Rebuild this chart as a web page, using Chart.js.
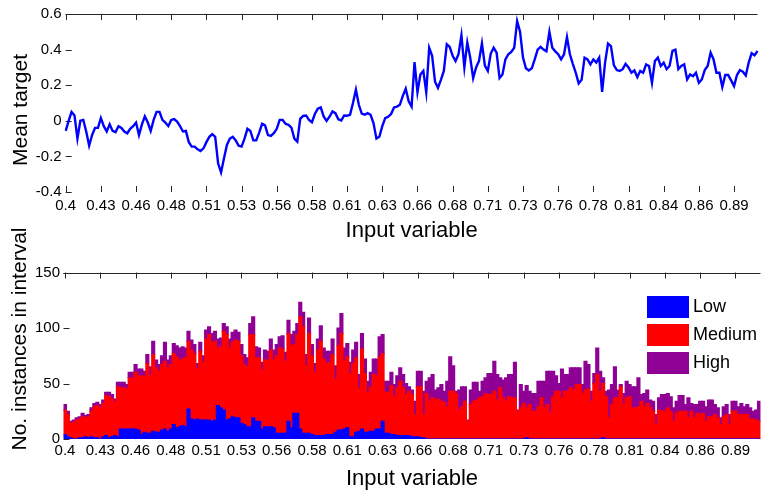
<!DOCTYPE html>
<html>
<head>
<meta charset="utf-8">
<script src="https://cdn.jsdelivr.net/npm/chart.js@4.4.0/dist/chart.umd.min.js"></script>
<style>
  body { margin: 0; background: #fff; }
  .panel { position: absolute; left: 0; width: 762px; }
  #top { top: 0; height: 250px; }
  #bottom { top: 220px; height: 272px; }
</style>
</head>
<body>
<div class="panel" id="top"><canvas id="meanChart" width="762" height="250"></canvas></div>
<div class="panel" id="bottom"><canvas id="countChart" width="762" height="272"></canvas></div>
<script>
// x tick labels, one every 12 bins
const tickLabels = ["0.4", "0.43", "0.46", "0.48", "0.51", "0.53", "0.56", "0.58", "0.61", "0.63",
    "0.66", "0.68", "0.71", "0.73", "0.76", "0.78", "0.81", "0.84", "0.86", "0.89"];
const binsPerTick = 12;

// mean target per bin (top panel)
const meanTarget = [
    -0.057, 0.0, 0.05, 0.03, -0.10, 0.0, 0.005, -0.06, -0.14, -0.08,
    -0.04, -0.04, 0.015, -0.03, -0.06, -0.02, -0.057, -0.064, -0.03, -0.04,
    -0.06, -0.07, -0.045, -0.03, -0.01, -0.08, -0.02, 0.025, -0.01, -0.057,
    0.005, 0.05, 0.05, 0.005, -0.01, -0.03, 0.005, 0.01, -0.004, -0.03,
    -0.06, -0.057, -0.12, -0.145, -0.145, -0.16, -0.17, -0.155, -0.12, -0.09,
    -0.075, -0.09, -0.24, -0.29, -0.21, -0.136, -0.10, -0.09, -0.11, -0.14,
    -0.145, -0.10, -0.045, -0.057, -0.11, -0.11, -0.066, -0.017, -0.026, -0.08,
    -0.085, -0.07, -0.045, 0.005, 0.005, -0.017, -0.023, -0.038, -0.10, -0.117,
    0.011, 0.028, 0.03, 0.005, -0.008, 0.038, 0.068, 0.075, 0.025, 0.0,
    0.023, 0.053, 0.043, 0.008, 0.002, 0.03, 0.028, 0.034, 0.10, 0.175,
    0.09, 0.04, 0.034, 0.043, 0.034, -0.013, -0.10, -0.09, -0.03, 0.015,
    0.023, 0.038, 0.075, 0.08, 0.09, 0.14, 0.18, 0.11, 0.08, 0.33,
    0.16, 0.26, 0.28, 0.16, 0.41, 0.365, 0.22, 0.185, 0.23, 0.28,
    0.43, 0.415, 0.365, 0.336, 0.374, 0.48, 0.3, 0.44, 0.355, 0.24,
    0.3, 0.336, 0.435, 0.31, 0.28, 0.378, 0.41, 0.383, 0.24, 0.26,
    0.345, 0.374, 0.387, 0.41, 0.56, 0.5, 0.355, 0.295, 0.283, 0.295,
    0.345, 0.4, 0.415, 0.4, 0.39, 0.5, 0.41, 0.39, 0.374, 0.345,
    0.374, 0.47, 0.374, 0.32, 0.27, 0.21, 0.23, 0.355, 0.345,
    0.317, 0.345, 0.327, 0.355, 0.162, 0.327, 0.434, 0.42, 0.313, 0.285,
    0.28, 0.29, 0.32, 0.3, 0.27, 0.283, 0.245, 0.28, 0.27, 0.317,
    0.308, 0.213, 0.336, 0.355, 0.308, 0.327, 0.29, 0.308, 0.393, 0.4,
    0.29, 0.308, 0.317, 0.232, 0.26, 0.25, 0.27, 0.213, 0.232, 0.285,
    0.308, 0.383, 0.345, 0.27, 0.27, 0.19, 0.257, 0.257, 0.227, 0.195,
    0.257, 0.285, 0.276, 0.255, 0.327, 0.38, 0.368, 0.393
];

// instance counts per bin (bottom panel)
const lowCounts = [
    4, 2, 1, 0, 0, 1, 1, 2, 1, 2,
    1, 1, 0, 2, 3, 1, 2, 3, 2, 9,
    9, 9, 9, 9, 9, 8, 4, 6, 5, 5,
    7, 6, 6, 8, 9, 7, 9, 13, 10, 11,
    12, 11, 27, 18, 17, 18, 17, 17, 17, 17,
    16, 17, 30, 28, 26, 17, 18, 20, 19, 19,
    14, 13, 11, 11, 19, 16, 16, 9, 11, 11,
    11, 10, 5, 5, 5, 5, 16, 10, 23, 23,
    9, 5, 5, 5, 4, 3, 3, 3, 3, 4,
    4, 4, 6, 8, 8, 9, 10, 2, 2, 6,
    7, 9, 6, 6, 7, 7, 9, 9, 16, 5,
    5, 4, 4, 3, 3, 3, 3, 3, 2, 2,
    2, 1, 1, 0, 0, 0, 0, 0, 0, 0,
    0, 0, 0, 0, 0, 0, 0, 0, 0, 0,
    0, 0, 0, 0, 0, 0, 0, 0, 0, 0,
    0, 0, 0, 0, 0, 0, 0, 1, 0, 0,
    0, 0, 0, 0, 0, 0, 0, 0, 0, 0,
    0, 0, 0, 0, 0, 0, 0, 0, 0,
    0, 0, 0, 0, 1, 0, 0, 0, 0, 0,
    0, 0, 0, 0, 0, 0, 0, 0, 0, 0,
    0, 0, 0, 0, 0, 0, 0, 0, 0, 0,
    0, 0, 0, 0, 0, 0, 0, 0, 0, 0,
    0, 0, 0, 0, 0, 0, 0, 0, 0, 0,
    0, 0, 0, 0, 0, 0, 0, 0
];
const mediumCounts = [
    22, 20, 13, 15, 17, 17, 19, 17, 19, 23,
    28, 29, 28, 30, 36, 37, 34, 30, 45, 37,
    37, 36, 46, 45, 51, 49, 53, 50, 63, 52,
    69, 58, 55, 59, 61, 57, 58, 64, 64, 60,
    60, 62, 61, 62, 60, 45, 62, 52, 73, 77,
    71, 71, 52, 55, 71, 77, 64, 67, 70, 69,
    61, 54, 54, 83, 75, 57, 57, 53, 60, 60,
    69, 61, 70, 77, 76, 65, 79, 74, 62, 71,
    101, 96, 61, 90, 71, 57, 77, 85, 69, 64,
    65, 72, 48, 76, 87, 61, 64, 57, 66, 67,
    39, 72, 53, 36, 40, 51, 48, 65, 61, 37,
    37, 44, 34, 43, 49, 43, 37, 40, 38, 20,
    45, 46, 21, 41, 34, 37, 35, 36, 34, 33,
    29, 43, 43, 41, 26, 29, 34, 16, 31, 34,
    35, 37, 38, 41, 40, 40, 43, 35, 46, 37,
    34, 38, 37, 37, 25, 28, 32, 27, 31, 25,
    25, 29, 37, 28, 31, 23, 38, 43, 43, 37,
    43, 43, 46, 44, 49, 49, 41, 44, 45,
    34, 50, 58, 43, 49, 38, 19, 31, 37, 37,
    47, 31, 37, 38, 28, 28, 29, 34, 29, 32,
    28, 25, 13, 26, 25, 25, 28, 25, 16, 23,
    25, 25, 25, 19, 25, 19, 23, 22, 23, 16,
    20, 20, 22, 19, 13, 20, 22, 13, 25, 25,
    22, 22, 22, 22, 18, 18, 17, 16
];
const highCounts = [
    5, 3, 2, 2, 2, 2, 3, 2, 2, 3,
    3, 3, 3, 3, 3, 4, 4, 3, 4, 5,
    5, 4, 5, 6, 7, 6, 6, 5, 8, 8,
    12, 7, 6, 8, 17, 7, 8, 9, 10, 11,
    11, 9, 9, 9, 8, 5, 8, 6, 8, 7,
    8, 9, 8, 8, 7, 7, 8, 9, 9, 8,
    10, 9, 8, 10, 16, 10, 9, 7, 9, 8,
    10, 9, 10, 10, 12, 8, 12, 10, 12, 10,
    13, 13, 10, 14, 10, 8, 10, 14, 10, 11,
    10, 14, 12, 16, 18, 12, 12, 10, 12, 14,
    12, 14, 13, 10, 13, 14, 15, 18, 17, 10,
    10, 12, 11, 11, 12, 12, 10, 4, 4, 12,
    14, 14, 21, 11, 21, 21, 9, 10, 15, 10,
    23, 31, 23, 2, 18, 18, 13, 1, 13, 17,
    16, 6, 14, 14, 19, 19, 27, 23, 9, 16,
    21, 20, 21, 32, 1, 21, 11, 20, 12, 16,
    16, 23, 15, 24, 30, 38, 23, 14, 7, 26,
    15, 15, 18, 20, 15, 15, 8, 26, 22,
    9, 9, 24, 18, 5, 5, 25, 18, 28, 7,
    2, 10, 15, 11, 19, 19, 26, 6, 12, 12,
    7, 9, 9, 11, 15, 15, 13, 13, 12, 11,
    14, 14, 6, 18, 7, 12, 8, 12, 11, 13,
    15, 15, 9, 9, 6, 9, 9, 9, 9, 9,
    7, 10, 7, 9, 10, 7, 9, 18
];

// one category per bin, labelled every binsPerTick bins
const bins = meanTarget.map((v, i) => i % binsPerTick === 0 ? tickLabels[i / binsPerTick] : "");

const FONT = '"Liberation Sans", Arial, sans-serif';
Chart.defaults.font.family = FONT;
Chart.defaults.color = "#000";

// matlab style box: top edge + inward tick marks
const boxTicks = {
    id: "boxTicks",
    beforeDatasetsDraw(chart) {
        const {ctx, chartArea: a, scales: {x, y}} = chart;
        ctx.save();
        ctx.strokeStyle = "#262626";
        ctx.lineWidth = 1;
        ctx.beginPath();
        ctx.moveTo(a.left, Math.round(a.top) + 0.5);
        ctx.lineTo(a.right, Math.round(a.top) + 0.5);
        x.ticks.forEach((t, i) => {
            if (!t.label) return;
            const px = Math.round(x.getPixelForTick(i)) + 0.5;
            ctx.moveTo(px, a.top);
            ctx.lineTo(px, a.top + 6);
            ctx.moveTo(px, a.bottom);
            ctx.lineTo(px, a.bottom - 6);
        });
        y.ticks.forEach((t, i) => {
            const py = Math.round(y.getPixelForTick(i)) + 0.5;
            ctx.moveTo(a.left, py);
            ctx.lineTo(a.left + 6, py);
        });
        ctx.stroke();
        ctx.restore();
    }
};

// rotated y title placed where matlab puts it
const sideTitle = {
    id: "sideTitle",
    afterDraw(chart, args, opts) {
        const ctx = chart.ctx;
        ctx.save();
        ctx.translate(opts.x, opts.y);
        ctx.rotate(-Math.PI / 2);
        ctx.font = "21px " + FONT;
        ctx.fillStyle = "#000";
        ctx.textAlign = "center";
        ctx.textBaseline = "middle";
        ctx.fillText(opts.text, 0, 0);
        ctx.restore();
    }
};

// legend with big colour patches, no frame
const patchLegend = {
    id: "patchLegend",
    afterDraw(chart, args, opts) {
        const ctx = chart.ctx;
        ctx.save();
        ctx.font = "18px " + FONT;
        ctx.textBaseline = "middle";
        chart.data.datasets.forEach((ds, i) => {
            const top = opts.top + i * opts.step;
            ctx.fillStyle = ds.backgroundColor;
            ctx.fillRect(opts.left, top, 42, 22);
            ctx.fillStyle = "#000";
            ctx.fillText(ds.label, opts.left + 46, top + 11);
        });
        ctx.restore();
    }
};

const xTicks = {autoSkip: false, maxRotation: 0, minRotation: 0, font: {size: 15}, padding: 4.5};

new Chart(document.getElementById("meanChart"), {
    type: "line",
    data: {
        labels: bins,
        datasets: [{
            data: meanTarget,
            borderColor: "#0000ff",
            borderWidth: 2.4,
            pointRadius: 0,
            tension: 0
        }]
    },
    options: {
        responsive: false,
        animation: false,
        layout: {padding: {top: 14, left: 0, right: 0, bottom: 0}},
        scales: {
            x: {
                offset: false,
                grid: {display: false, drawTicks: false},
                border: {display: false},
                ticks: xTicks,
                title: {display: true, text: "Input variable", font: {size: 22}, padding: {top: 0, bottom: 6}},
                afterFit: s => { s.height = 58; }
            },
            y: {
                min: -0.4,
                max: 0.6,
                grid: {display: false, drawTicks: false},
                border: {display: false},
                ticks: {stepSize: 0.2, font: {size: 15}, padding: 4},
                afterFit: s => { s.width = 65.7; }
            }
        },
        plugins: {
            legend: {display: false},
            tooltip: {enabled: false},
            sideTitle: {text: "Mean target", x: 21, y: 110}
        }
    },
    plugins: [boxTicks, sideTitle]
});

new Chart(document.getElementById("countChart"), {
    type: "bar",
    data: {
        labels: bins,
        datasets: [
            {label: "Low", data: lowCounts, backgroundColor: "#0000ff"},
            {label: "Medium", data: mediumCounts, backgroundColor: "#ff0000"},
            {label: "High", data: highCounts, backgroundColor: "#8f0094"}
        ]
    },
    options: {
        responsive: false,
        animation: false,
        datasets: {bar: {barPercentage: 1, categoryPercentage: 1, borderWidth: 0, inflateAmount: 0.6}},
        layout: {padding: {top: 52.5, left: 0, right: 0, bottom: 0}},
        scales: {
            x: {
                stacked: true,
                offset: true,
                grid: {display: false, drawTicks: false},
                border: {display: false},
                ticks: {...xTicks, padding: 3},
                title: {display: true, text: "Input variable", font: {size: 22}, padding: {top: 0, bottom: 0}},
                afterFit: s => { s.height = 53; }
            },
            y: {
                stacked: true,
                min: 0,
                max: 150,
                grid: {display: false, drawTicks: false},
                border: {display: false},
                ticks: {stepSize: 50, font: {size: 15}, padding: 3.5},
                afterFit: s => { s.width = 63.5; }
            }
        },
        plugins: {
            legend: {display: false},
            tooltip: {enabled: false},
            sideTitle: {text: "No. instances in interval", x: 20, y: 119},
            patchLegend: {left: 647, top: 76, step: 28}
        }
    },
    plugins: [boxTicks, sideTitle, patchLegend]
});
</script>
</body>
</html>
